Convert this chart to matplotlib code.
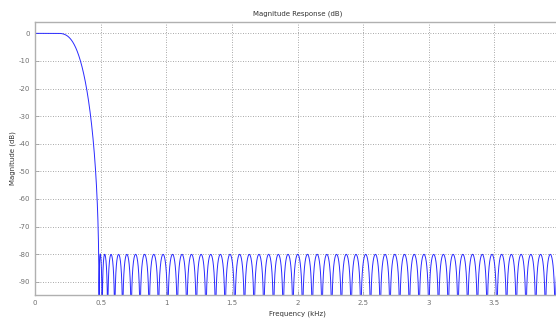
import numpy as np
import matplotlib
matplotlib.use("Agg")
import matplotlib.pyplot as plt

# ---- values ----
fs_khz = 8.0              # sampling rate (x axis runs 0 .. fs/2)
stop_edge_khz = 0.485     # response first reaches the -80 dB level
stop_atten_db = 80.0      # stopband ripple peaks
pass_ripple_ratio = 10.0  # passband ripple / stopband ripple (flat passband)
num_taps = 109            # lobe spacing ~0.077 kHz
x_ticks = [0, 0.5, 1, 1.5, 2, 2.5, 3, 3.5]
x_tick_labels = ["0", "0.5", "1", "1.5", "2", "2.5", "3", "3.5"]
y_ticks = [0, -10, -20, -30, -40, -50, -60, -70, -80, -90]
y_tick_labels = ["0", "-10", "-20", "-30", "-40", "-50", "-60", "-70", "-80", "-90"]
title_text = "Magnitude Response (dB)"
x_label = "Frequency (kHz)"
y_label = "Magnitude (dB)"


def lawson_lowpass(ntaps, fp, fst, fs, k, iters=200):
    m = (ntaps - 1) // 2
    wp = 2 * np.pi * fp / fs
    ws = 2 * np.pi * fst / fs
    ng = 20 * m
    gp = np.linspace(0, wp, int(ng * wp / np.pi) + 20)
    gs = np.linspace(ws, np.pi, int(ng * (np.pi - ws) / np.pi) + 20)
    w = np.concatenate([gp, gs])
    d = np.concatenate([np.ones_like(gp), np.zeros_like(gs)])
    wt = np.concatenate([np.ones_like(gp), k * np.ones_like(gs)])
    c = np.cos(np.outer(w, np.arange(m + 1)))
    lw = np.ones_like(w) / len(w)
    a = None
    for _ in range(iters):
        s = np.sqrt(lw) * wt
        a = np.linalg.lstsq(c * s[:, None], d * s, rcond=None)[0]
        e = np.abs(wt * (c @ a - d)) + 1e-300
        lw = lw * e
        lw /= lw.sum()
    stop_peak = np.max(np.abs(c[len(gp):] @ a))
    return a, stop_peak


target = 10 ** (-stop_atten_db / 20)
lo, hi = 0.02, 0.40
coef = None
for _ in range(14):
    mid = 0.5 * (lo + hi)
    coef, pk = lawson_lowpass(num_taps, mid, stop_edge_khz, fs_khz,
                              pass_ripple_ratio, iters=120)
    if pk > target:
        hi = mid
    else:
        lo = mid
coef, pk = lawson_lowpass(num_taps, lo, stop_edge_khz, fs_khz,
                          pass_ripple_ratio, iters=300)

freq = np.linspace(0, fs_khz / 2, 6000)
omega = 2 * np.pi * freq / fs_khz
amp = np.cos(np.outer(omega, np.arange(len(coef)))) @ coef
mag_db = 20 * np.log10(np.maximum(np.abs(amp), 1e-12))

fig = plt.figure(figsize=(5.56, 3.2), dpi=100)
ax = fig.add_axes([35 / 556, 25 / 320, 525 / 556, 273 / 320])
ax.plot(freq, mag_db, color="#2a2aff", lw=0.7)
ax.set_xlim(0, 4)
ax.set_ylim(-94.8, 4.1)
ax.set_xticks(x_ticks)
ax.set_xticklabels(x_tick_labels)
ax.set_yticks(y_ticks)
ax.set_yticklabels(y_tick_labels)
ax.grid(True, color="#8c8c8c", linestyle=(0, (1, 2)), lw=0.6)
ax.tick_params(direction="in", length=3, width=0.6, colors="#a0a0a0",
               labelcolor="#707070", labelsize=5)
for sp in ax.spines.values():
    sp.set_color("#b0b0b0")
    sp.set_linewidth(1.0)
ax.set_title(title_text, fontsize=5, color="#333333", pad=5)
ax.set_xlabel(x_label, fontsize=5, color="#333333", labelpad=3)
ax.set_ylabel(y_label, fontsize=5, color="#333333", labelpad=2)
fig.savefig("out.png", dpi=100)
